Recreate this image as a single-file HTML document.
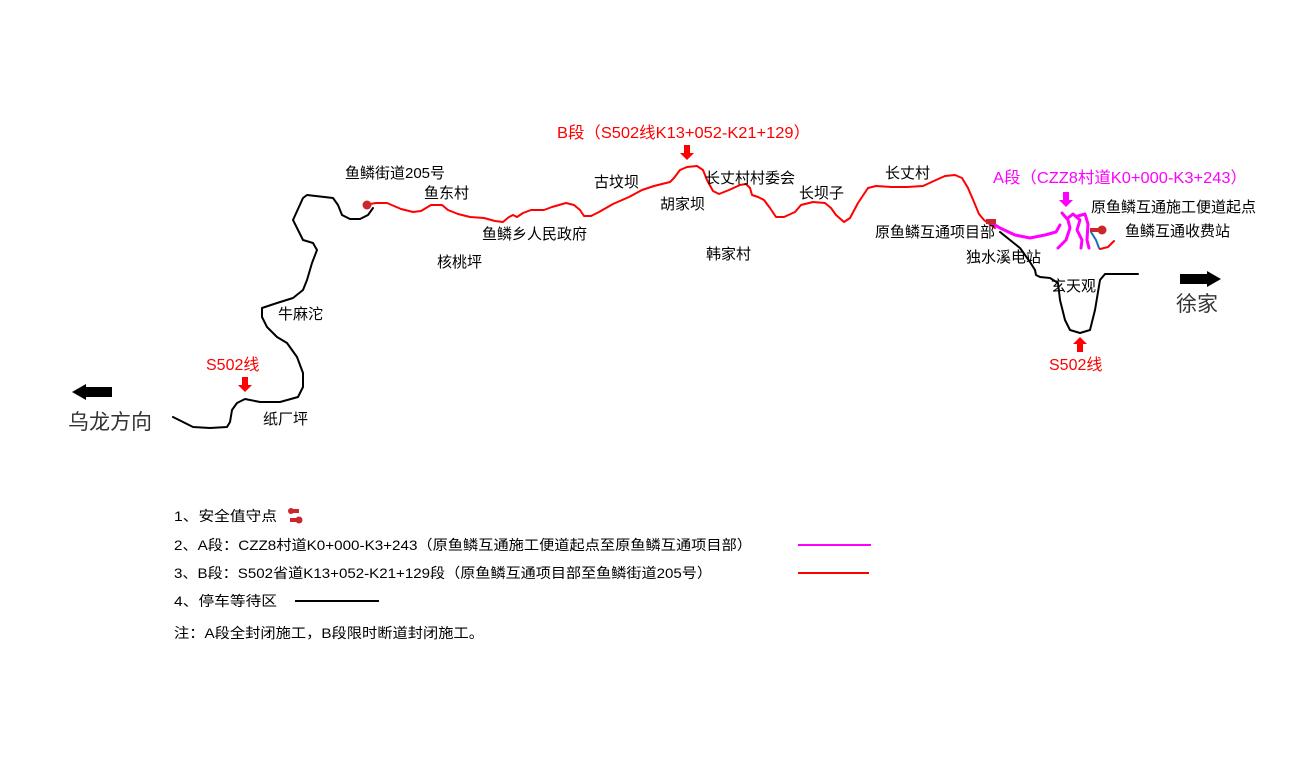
<!DOCTYPE html>
<html><head><meta charset="utf-8"><style>
body{margin:0;background:#fff;}
svg text{font-family:"Liberation Sans","Noto Sans CJK SC",sans-serif;}
</style></head><body>
<svg width="1290" height="769" viewBox="0 0 1290 769" xmlns="http://www.w3.org/2000/svg">
<rect width="1290" height="769" fill="#fff"/>
<g fill="none" stroke-linejoin="round" stroke-linecap="round">
<polyline stroke="#000" stroke-width="2" points="373,208 368,215 360,219 350,219 342,215 338,205 333,198 307,195 303,198 293,220 297,228 303,240 313,243 317,250 312,263 307,280 303,290 293,298 277,303 262,308 262,317 267,327 277,337 287,343 297,357 303,373 303,387 298,397 280,402 260,402 245,399 237,403 232,410 230,422 227,427 210,428 193,427 183,422 173,417"/>
<polyline stroke="#f00" stroke-width="2" points="364,205 376,203 387,203 401,209 413,212 421,211 431,205 442,205 448,210 458,214 470,217 484,218 495,221 503,222 509,217 513,215 517,217 523,213 531,210 544,210 552,207 566,203 574,205 580,210 584,216 591,216 599,212 613,204 629,197 642,190 654,186 670,182 674,178 680,170 687,167 697,166 703,170 707,180 713,191 719,194 729,190 740,185 746,184 750,188 752,195 758,197 764,200 770,208 776,217 784,217 795,212 801,205 813,202 825,203 831,208 836,215 844,222 850,218 858,203 868,188 876,186 891,187 907,187 923,186 936,180 945,176 955,175 962,178 968,188 974,202 979,214 984,220 995,228"/>
<polyline stroke="#000" stroke-width="2" points="1000,232 1010,240 1020,248 1030,262 1035,270 1036,275 1040,277 1050,278 1058,283 1060,300 1065,320 1070,330 1080,333 1090,330 1095,310 1100,280 1105,274 1138,274"/>
<g stroke="#f0f" stroke-width="3">
<polyline points="990,222 1000,228 1015,235 1030,238 1045,235 1056,232 1060,225"/>
<polyline points="1062,213 1068,220 1070,228 1066,240 1058,248"/>
<polyline points="1068,218 1073,214 1080,220 1077,230 1082,240 1081,248"/>
<polyline points="1078,216 1085,214 1088,224 1087,240 1089,248"/>
</g>
<polyline stroke="#1e6fb5" stroke-width="2" points="1091,232 1096,240 1099,248"/>
<polyline stroke="#f00" stroke-width="2" points="1100,249 1108,247 1114,241"/>
</g>
<circle cx="367" cy="205" r="4.5" fill="#c8282d"/>
<circle cx="1102" cy="230" r="4.5" fill="#c8282d"/>
<rect x="1090" y="228" width="10" height="4" fill="#c8282d"/>
<rect x="986" y="219" width="10" height="5" fill="#c8282d"/>
<polygon points="684,145 690,145 690,153 694,153 687,160 680,153 684,153" fill="#f00"/>
<polygon points="242,377 248,377 248,385 252,385 245,392 238,385 242,385" fill="#f00"/>
<polygon points="1077,352 1083,352 1083,344 1087,344 1080,337 1073,344 1077,344" fill="#f00"/>
<polygon points="1063,192 1069,192 1069,200 1073,200 1066,207 1059,200 1063,200" fill="#f0f"/>
<polygon points="112,387 86,387 86,384 72,392 86,400 86,397 112,397" fill="#000"/>
<polygon points="1180,274 1207,274 1207,271 1221,279 1207,287 1207,284 1180,284" fill="#000"/>
<g font-size="15" fill="#000">
<text x="345" y="178">鱼鳞街道205号</text>
<text x="424" y="198">鱼东村</text>
<text x="482" y="239">鱼鳞乡人民政府</text>
<text x="437" y="267">核桃坪</text>
<text x="594" y="187">古坟坝</text>
<text x="660" y="209">胡家坝</text>
<text x="705" y="183">长丈村村委会</text>
<text x="799" y="198">长坝子</text>
<text x="706" y="259">韩家村</text>
<text x="885" y="178">长丈村</text>
<text x="1091" y="212">原鱼鳞互通施工便道起点</text>
<text x="1125" y="236">鱼鳞互通收费站</text>
<text x="875" y="237">原鱼鳞互通项目部</text>
<text x="966" y="262">独水溪电站</text>
<text x="1051" y="291">玄天观</text>
<text x="278" y="319">牛麻沱</text>
<text x="263" y="424">纸厂坪</text>
</g>
<text x="557" y="138" font-size="16" fill="#f00" textLength="253" lengthAdjust="spacingAndGlyphs">B段（S502线K13+052-K21+129）</text>
<text x="993" y="183" font-size="16" fill="#f0f" textLength="254" lengthAdjust="spacingAndGlyphs">A段（CZZ8村道K0+000-K3+243）</text>
<text x="1049" y="370" font-size="16" fill="#f00">S502线</text>
<text x="206" y="370" font-size="16" fill="#f00">S502线</text>
<text x="1176" y="311" font-size="21" fill="#333">徐家</text>
<text x="68" y="429" font-size="21" fill="#333">乌龙方向</text>
<g font-size="14" fill="#000">
<text x="174" y="521" textLength="103" lengthAdjust="spacingAndGlyphs">1、安全值守点</text>
<text x="174" y="550" textLength="578" lengthAdjust="spacingAndGlyphs">2、A段：CZZ8村道K0+000-K3+243（原鱼鳞互通施工便道起点至原鱼鳞互通项目部）</text>
<text x="174" y="578" textLength="538" lengthAdjust="spacingAndGlyphs">3、B段：S502省道K13+052-K21+129段（原鱼鳞互通项目部至鱼鳞街道205号）</text>
<text x="174" y="606" textLength="103" lengthAdjust="spacingAndGlyphs">4、停车等待区</text>
<text x="174" y="638" textLength="310" lengthAdjust="spacingAndGlyphs">注：A段全封闭施工，B段限时断道封闭施工。</text>
</g>
<circle cx="291" cy="511" r="3" fill="#c8282d"/><rect x="291" y="509" width="8" height="4" fill="#c8282d"/>
<circle cx="299" cy="520" r="3.5" fill="#c8282d"/><rect x="290" y="518" width="9" height="4" fill="#c8282d"/>
<line x1="798" y1="545" x2="871" y2="545" stroke="#f0f" stroke-width="2"/>
<line x1="798" y1="573" x2="869" y2="573" stroke="#f00" stroke-width="2"/>
<line x1="295" y1="601" x2="379" y2="601" stroke="#000" stroke-width="2"/>
</svg>
</body></html>
